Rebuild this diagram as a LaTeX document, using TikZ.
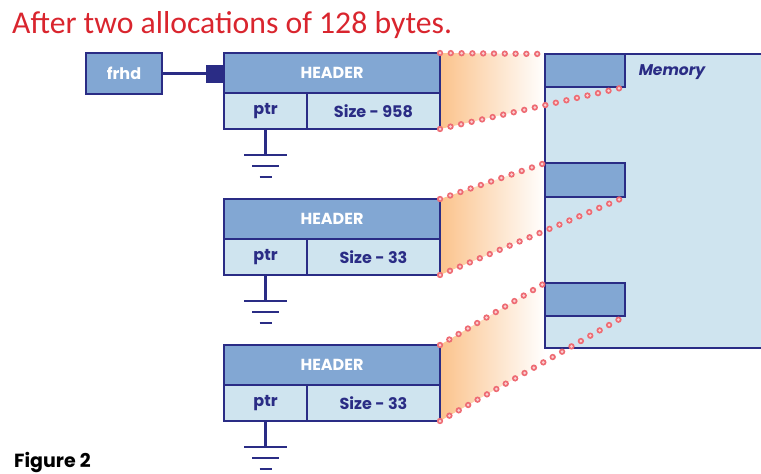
\documentclass[tikz,border=0pt]{standalone}
\usepackage{fontspec}
\setmainfont{Poppins}
\newfontfamily\titlefont{Carlito}
\usepackage{tikz}
\usetikzlibrary{calc,positioning,backgrounds}
\definecolor{navy}{HTML}{2A2C85}
\definecolor{midblue}{HTML}{82A7D3}
\definecolor{paleblue}{HTML}{CFE4EF}
\definecolor{peach}{HTML}{FBC38C}
\definecolor{dotred}{HTML}{EE6B73}
\definecolor{dotpink}{HTML}{FAD0D2}
\definecolor{titlered}{HTML}{D9252E}
\tikzset{hdrbox/.style={draw=navy,fill=midblue,line width=2.4pt,outer sep=0pt,inner sep=0pt,minimum width=216pt,minimum height=40pt,anchor=north west,font=\bfseries\fontsize{16}{16}\selectfont,text=white}, cellbox/.style={draw=navy,fill=paleblue,line width=2.4pt,outer sep=0pt,inner sep=0pt,minimum height=36pt,anchor=north west,font=\bfseries\fontsize{16}{16}\selectfont,text=navy}, frhdbox/.style={draw=navy,fill=midblue,line width=2.4pt,outer sep=0pt,inner sep=0pt,minimum width=76pt,minimum height=41pt,anchor=north west,font=\bfseries\fontsize{16}{16}\selectfont,text=white}, plug/.style={fill=navy,outer sep=0pt,inner sep=0pt,minimum size=18pt,anchor=east}, wire/.style={draw=navy,line width=2.2pt}, membox/.style={draw=navy,fill=paleblue,line width=2.4pt,outer sep=0pt,inner sep=0pt,minimum width=240pt,minimum height=294pt,anchor=north west}, blkbox/.style={draw=navy,fill=midblue,line width=2.4pt,outer sep=0pt,inner sep=0pt,minimum width=80pt,anchor=north west}, memlbl/.style={font=\bfseries\itshape\fontsize{15.5}{15.5}\selectfont,text=navy}, gnd/.style={draw=navy,line width=2.9pt}, dotline/.style={draw=dotred,line width=1.7pt,double=dotpink,double distance=3pt,line cap=round,dash pattern=on 0pt off 10.8pt}, titletext/.style={font=\titlefont\fontsize{31.7}{31.7}\selectfont,text=titlered,anchor=base west,inner sep=0pt}, figtext/.style={font=\bfseries\fontsize{19}{19}\selectfont,anchor=base west,inner sep=0pt}}
\begin{document}
\begin{tikzpicture}[x=1pt,y=-1pt]
\useasboundingbox (0,0) rectangle (761,474);
\clip (0,0) rectangle (761,474);
\node[titletext] (title) at (12,33) {After two allocations of 128 bytes.};
\node[membox] (mem) at (545,54) {};
\node[memlbl] (mlbl) at (672,72) {Memory};
\foreach \k/\y/\hh in {0/54/33,1/163/34,2/283/33}
 \node[blkbox,minimum height=\hh pt] (b\k) at (545,\y) {};
\foreach \k/\sz in {0/958,1/33,2/33}{
 \pgfmathsetmacro{\yy}{53+146*\k}
 \node[hdrbox] (h\k) at (224,\yy) {HEADER};
 \node[cellbox,minimum width=83pt] (p\k) at (h\k.south west) {ptr};
 \node[cellbox,minimum width=133pt] (s\k) at (p\k.north east) {Size - \sz};
 \coordinate (ix\k) at (intersection of s\k.south east--b\k.south east and b\k.north west--b\k.south west);
 \begin{scope}[on background layer]
 \shade[left color=peach,right color=white] (h\k.north east) -- (b\k.north west) -- (ix\k) -- (s\k.south east) -- cycle;
 \end{scope}
 \draw[dotline] (h\k.north east) -- (b\k.north west);
 \draw[dotline] (s\k.south east) -- (b\k.south east);
 \draw[gnd] (p\k.south) -- ++(0,26) coordinate (g\k);
 \draw[gnd] ($(g\k)+(-21.5,0)$) -- ++(43,0);
 \draw[gnd] ($(g\k)+(-13.5,11)$) -- ++(27,0);
 \draw[gnd] ($(g\k)+(-6,22)$) -- ++(12,0);
}
\node[frhdbox] (frhd) at (86,53) {frhd};
\node[plug] (sq) at (h0.west |- frhd.east) {};
\draw[wire] (frhd.east) -- (sq.west);
\node[figtext] (fig) at (14,467) {Figure 2};
\end{tikzpicture}
\end{document}
